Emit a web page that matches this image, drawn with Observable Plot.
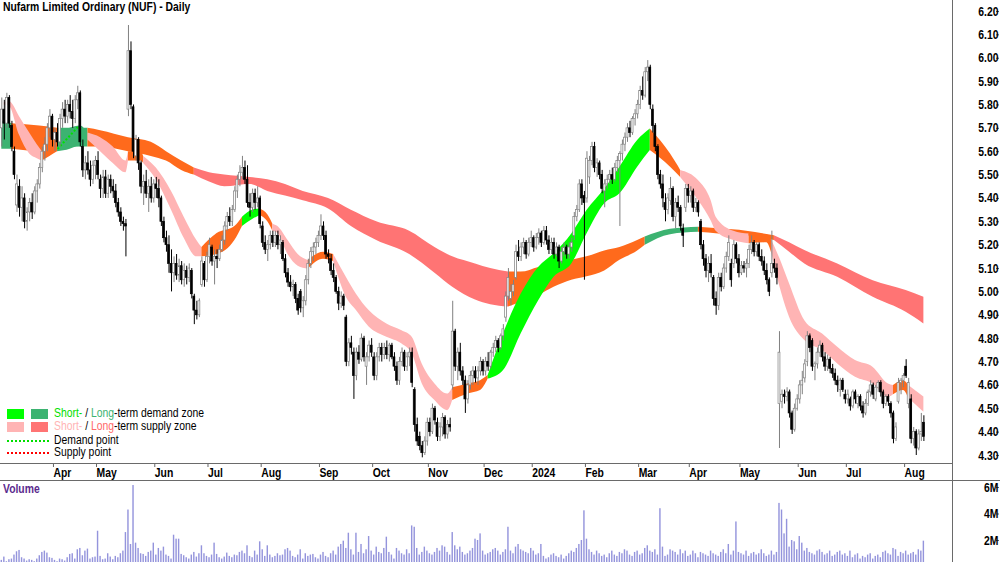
<!DOCTYPE html>
<html><head><meta charset="utf-8">
<script src="https://cdn.jsdelivr.net/npm/d3@7"></script>
<script src="https://cdn.jsdelivr.net/npm/@observablehq/plot@0.6"></script>
<style>
body{margin:0;background:#fff;}
#wrap{position:relative;width:1000px;height:562px;overflow:hidden;background:#fff;font-family:"Liberation Sans Narrow","Arial Narrow","Liberation Sans",Arial,sans-serif;color:#000;}
.abs{position:absolute;}
.hl{position:absolute;height:1px;background:#6a6a6a;}
.vl{position:absolute;width:1px;background:#6a6a6a;}
.nar{display:inline-block;transform:scaleX(0.83);transform-origin:0 0;white-space:nowrap;}
#title{left:3px;top:0px;font-size:12.5px;font-weight:bold;}
#vlabel{left:3px;top:482px;font-size:12.5px;font-weight:bold;color:#5b2a8e;}
.lg{position:absolute;left:0;font-size:12.5px;white-space:nowrap;}
.sw{position:absolute;width:17px;height:10px;}
.dot{position:absolute;height:2px;width:42px;}
</style></head><body>
<div id="wrap">
  <div id="price" class="abs" style="left:0;top:0"></div>
  <div id="vol" class="abs" style="left:0;top:480px"></div>
  <div class="hl" style="left:0;top:463px;width:952px"></div>
  <div class="hl" style="left:0;top:480px;width:1000px"></div>
  <div class="vl" style="left:952px;top:0;height:562px"></div>
  <div id="title" class="abs"><span class="nar">Nufarm Limited Ordinary (NUF) - Daily</span></div>
  <div id="vlabel" class="abs"><span class="nar">Volume</span></div>
  <div id="legend" class="abs" style="left:0;top:0;width:260px;height:470px">
    <div class="sw" style="left:7px;top:409px;background:#00ff00"></div>
    <div class="sw" style="left:31px;top:409px;background:#3cb371"></div>
    <div class="lg" style="left:54px;top:406px"><span class="nar"><span style="color:#00e000">Short-</span> / <span style="color:#3cb371">Long</span>-term demand zone</span></div>
    <div class="sw" style="left:7px;top:422px;background:#ffb4b4"></div>
    <div class="sw" style="left:31px;top:422px;background:#ff7474"></div>
    <div class="lg" style="left:54px;top:419px"><span class="nar"><span style="color:#ffb4b4">Short-</span> / <span style="color:#ff6a6a">Long</span>-term supply zone</span></div>
    <div class="dot" style="left:7px;top:440px;background:repeating-linear-gradient(to right,#00e000 0 2px,transparent 2px 4px)"></div>
    <div class="lg" style="left:54px;top:433px"><span class="nar">Demand point</span></div>
    <div class="dot" style="left:7px;top:452px;background:repeating-linear-gradient(to right,#ff0000 0 2px,transparent 2px 4px)"></div>
    <div class="lg" style="left:54px;top:445px"><span class="nar">Supply point</span></div>
  </div>
</div>
<script>
// ---------- DATA (prices in cents, volume in 10k shares) ----------
const startDate = "2023-03-06";
const holidays = ["2023-04-07","2023-04-10","2023-04-25","2023-06-12","2023-12-25","2023-12-26","2024-01-01","2024-01-26","2024-03-29","2024-04-01","2024-04-25","2024-06-10"];
const monthNames = ["Jan","Feb","Mar","Apr","May","Jun","Jul","Aug","Sep","Oct","Nov","Dec"];

const openC = [570,578,572,583,571,560,537,545,536,540,530,534,538,534,543,546,553,560,563,570,575,565,568,564,574,578,575,580,577,574,582,585,562,552,555,552,548,554,556,548,544,549,542,548,545,543,538,534,530,529,578,603,579,558,565,555,545,547,542,545,540,546,544,540,530,523,520,512,508,512,507,511,505,509,506,509,498,492,490,503,512,505,515,519,513,515,514,518,522,528,532,530,535,543,548,551,553,548,538,536,542,538,540,528,521,518,520,524,521,524,520,521,514,508,504,502,503,497,500,493,496,505,512,517,519,521,524,528,524,516,514,509,506,500,495,498,489,470,478,474,464,474,471,480,468,472,477,472,464,472,476,473,476,473,477,472,468,462,470,474,468,472,474,458,443,438,434,431,436,444,440,450,444,438,442,446,439,443,460,483,468,474,466,462,454,460,464,466,463,466,470,466,470,468,474,476,479,476,481,489,498,497,500,506,517,515,519,521,516,521,523,519,523,525,521,526,522,518,521,516,519,513,517,519,516,519,524,532,535,546,541,540,549,556,562,553,555,550,543,546,548,550,548,553,556,559,563,566,570,568,574,576,580,586,584,594,596,578,571,562,550,546,538,535,539,544,532,538,536,527,536,544,541,543,536,538,530,520,514,509,512,506,497,494,506,502,510,515,512,512,520,514,508,511,510,512,518,521,517,520,515,513,509,505,508,512,510,452,453,456,455,457,448,441,450,454,460,463,470,481,479,468,469,474,477,472,468,471,467,465,462,458,462,456,454,454,451,457,452,455,451,448,452,457,460,454,459,461,457,452,455,452,448,437,453,461,462,468,452,454,437,440,433,439,444];
const highC = [583,582,585,584,573,562,550,548,545,542,536,540,542,545,548,555,562,566,572,578,576,570,572,576,581,582,582,584,582,584,588,586,565,558,560,556,556,558,560,550,552,552,550,550,548,546,540,536,532,531,614,607,580,567,566,556,550,552,548,549,548,549,548,541,532,526,524,518,515,516,514,513,512,511,512,510,499,496,497,515,513,517,523,520,518,518,520,524,530,534,536,537,545,550,554,558,556,554,542,544,544,545,541,530,524,522,526,526,526,526,524,522,516,510,507,505,504,499,501,498,507,514,519,521,523,526,533,530,526,518,516,512,507,502,500,499,490,480,481,476,476,477,482,481,474,479,480,474,474,478,478,478,479,478,478,474,470,472,476,475,474,476,476,459,446,440,436,438,446,446,452,451,446,444,448,447,445,446,496,484,476,478,468,464,462,466,468,468,468,472,471,472,474,475,478,481,480,482,486,500,510,503,505,520,522,521,523,522,523,526,524,525,527,526,528,528,524,523,523,521,520,519,521,520,521,523,534,537,548,548,543,560,558,564,564,557,556,552,548,550,552,553,555,558,560,565,568,572,573,575,578,582,588,592,596,599,597,580,572,563,552,550,542,542,549,545,540,541,537,529,546,546,545,544,540,539,531,522,516,515,516,507,500,508,508,512,517,524,514,522,521,516,513,513,514,520,524,522,521,521,518,515,512,506,526,514,512,483,458,458,459,458,449,452,456,462,466,471,483,482,480,470,476,479,478,474,473,472,469,467,464,463,463,458,458,455,458,458,456,456,453,454,458,462,461,460,462,462,458,456,456,453,449,444,463,463,465,471,463,456,442,441,441,448,447];
const lowC = [562,565,570,570,560,548,534,532,530,527,526,530,531,533,538,544,551,556,560,566,562,560,562,562,570,572,572,574,570,572,578,562,549,548,550,545,546,548,548,540,540,540,540,542,540,536,532,528,526,515,575,578,557,556,552,542,537,540,534,538,538,540,536,528,521,517,508,500,504,505,504,503,502,503,504,497,486,488,489,502,502,504,512,511,503,510,513,517,520,526,528,528,534,540,545,548,546,536,532,534,535,536,527,519,516,513,518,519,519,518,516,513,506,502,500,498,495,490,491,489,494,503,510,513,516,519,522,522,514,512,507,504,499,492,493,492,468,468,473,454,462,469,470,470,460,470,472,462,462,470,470,471,471,470,471,466,460,460,468,466,466,468,459,440,434,432,429,430,434,438,439,443,436,436,438,437,437,440,458,466,462,464,460,448,452,458,460,461,460,464,464,464,466,467,472,474,474,475,479,487,496,494,498,505,513,513,516,514,515,519,517,518,520,519,520,520,516,516,514,515,510,512,515,514,514,517,522,530,534,537,505,538,546,554,551,549,548,542,536,544,546,546,547,551,528,556,560,564,566,567,571,574,578,582,583,590,578,568,560,548,544,536,530,533,537,530,527,534,526,519,534,538,538,534,534,532,518,511,506,504,506,494,490,492,500,501,508,513,502,510,512,506,507,508,506,510,516,515,515,513,511,507,503,498,506,508,503,433,450,452,453,446,439,440,449,452,456,461,468,474,466,462,467,472,470,466,466,465,463,460,457,455,457,452,452,449,450,452,450,449,446,447,451,455,454,453,457,455,450,451,451,446,435,436,452,456,459,463,450,435,434,430,432,436,436];
const closeC = [578,572,583,572,562,550,546,536,540,530,534,538,534,543,546,553,560,563,570,575,565,568,564,574,578,575,580,577,574,582,585,564,552,555,552,548,554,556,550,544,549,542,548,545,543,538,534,530,529,528,603,580,560,565,555,545,547,542,545,540,546,544,540,530,523,520,512,508,512,507,511,505,509,506,510,499,492,490,496,513,505,515,520,513,515,514,518,522,528,532,530,535,543,548,551,553,548,538,536,542,538,540,529,521,518,520,524,521,524,520,522,514,508,504,502,503,497,492,493,496,505,512,517,519,521,524,528,524,516,515,509,506,500,495,498,494,470,478,476,464,474,471,480,472,472,477,474,464,472,476,473,476,473,477,472,468,462,470,474,468,472,474,461,443,436,434,431,436,444,440,450,445,438,442,446,439,443,442,483,468,474,466,462,454,460,464,466,463,466,470,466,470,468,474,476,479,476,481,484,498,506,500,503,517,515,519,521,516,521,523,519,523,525,521,526,522,518,521,516,519,513,517,519,516,519,521,532,535,546,540,538,557,556,562,553,555,550,544,546,548,550,548,553,556,559,563,566,570,568,574,576,580,586,584,594,596,580,571,562,550,546,540,535,540,544,532,538,536,528,524,544,541,543,536,538,534,520,514,509,512,508,497,494,506,502,510,515,521,505,520,514,508,511,510,512,518,521,517,520,515,513,509,505,500,512,510,506,474,456,455,457,448,441,450,454,460,462,469,481,476,468,469,474,477,472,468,471,467,465,462,460,462,458,454,456,451,457,454,455,451,448,452,457,460,456,459,461,457,452,455,453,448,437,442,461,462,464,464,461,437,440,433,439,440,438];
const volume10k = [50,75,40,55,60,90,115,125,70,60,45,55,50,40,60,85,110,120,105,70,65,50,40,60,55,45,70,95,100,60,130,140,85,120,135,60,70,75,270,80,55,60,100,75,55,80,70,100,120,260,430,170,615,180,140,100,95,80,110,120,180,90,140,120,150,90,80,60,240,210,210,95,85,70,60,90,110,75,100,160,100,80,70,90,180,95,70,60,75,105,80,70,90,85,110,120,100,160,80,70,120,90,190,130,80,160,90,70,80,100,85,90,130,140,120,80,70,90,130,60,100,80,90,95,70,60,90,110,80,70,100,120,90,150,170,195,140,255,130,90,255,110,170,100,130,230,120,90,150,110,100,140,225,110,90,60,140,120,100,90,130,100,310,300,140,90,110,150,120,100,90,110,140,120,160,150,110,90,260,160,130,150,110,90,100,120,140,210,200,250,120,90,100,110,130,140,120,90,110,130,300,120,100,150,170,130,120,110,100,140,120,90,100,170,80,60,70,90,100,80,70,90,60,80,100,120,110,140,170,200,424,210,130,110,90,120,100,80,90,70,100,120,90,80,110,100,130,120,90,80,110,120,90,100,140,160,120,110,130,90,440,150,80,90,130,120,110,90,130,100,120,80,90,120,100,70,110,100,90,80,120,100,90,80,110,130,100,170,90,120,340,110,100,90,120,80,100,110,90,100,130,100,80,90,120,90,110,480,430,250,360,150,200,190,130,230,180,120,140,110,100,90,120,130,110,90,100,120,80,90,110,120,90,100,80,120,70,90,100,60,80,70,90,100,60,80,90,70,110,120,100,90,140,130,80,110,100,120,90,100,110,90,130,120,195];

// Zone bands: knots at trading-day index, top/bottom price, zone code for the stretch that follows
const longDay = [0,4,15,22,31,34,39,50,59,65,71,76,82,88,98,105,112,119,129,138,148,161,171,178,187,193,200,205,212,218,225,231,238,244,251,254,264,275,283,294,305,311,317,330,344,357,364];
const longTop = [5.73,5.72,5.71,5.70,5.70,5.70,5.69,5.66,5.64,5.60,5.56,5.53,5.51,5.50,5.49,5.48,5.46,5.43,5.40,5.35,5.30,5.26,5.19,5.15,5.12,5.10,5.085,5.085,5.105,5.12,5.135,5.15,5.175,5.19,5.22,5.235,5.268,5.277,5.27,5.26,5.24,5.21,5.177,5.12,5.048,5.006,4.977];
const longBot = [5.61,5.61,5.60,5.61,5.62,5.62,5.62,5.60,5.58,5.56,5.52,5.50,5.47,5.45,5.46,5.43,5.41,5.39,5.355,5.28,5.22,5.16,5.08,5.02,4.965,4.945,4.935,4.955,4.985,5.02,5.05,5.065,5.09,5.135,5.175,5.20,5.245,5.255,5.248,5.24,5.22,5.17,5.12,5.063,4.977,4.913,4.863];
const longZone = ["ld","n","n","ld","ld","n","n","n","n","n","n","ls","ls","ls","ls","ls","ls","ls","ls","ls","ls","ls","ls","ls","ls","ls","n","n","n","n","n","n","n","n","n","ld","ld","n","n","n","ls","ls","ls","ls","ls","ls","ls"];

const shortDay = [1,3,7,11,14,16,19,22,27,31,34,39,44,49,50,55,56,61,67,72,77,79,85,92,95,99,102,105,107,109,113,117,121,127,131,136,140,145,152,158,162,166,171,176,178,184,189,192,198,205,212,218,225,231,238,244,251,256,264,268,275,280,282,289,295,302,304,308,311,317,324,330,337,344,350,352,356,358,364];
const shortTop = [5.81,5.815,5.75,5.68,5.63,5.60,5.64,5.68,5.70,5.71,5.68,5.66,5.62,5.56,5.60,5.60,5.58,5.53,5.43,5.32,5.22,5.19,5.25,5.28,5.32,5.35,5.355,5.33,5.29,5.28,5.22,5.16,5.134,5.17,5.16,5.063,4.99,4.92,4.863,4.834,4.806,4.69,4.606,4.563,4.59,4.606,4.62,4.642,4.82,4.99,5.106,5.163,5.248,5.348,5.44,5.534,5.648,5.697,5.59,5.52,5.477,5.391,5.32,5.26,5.248,5.245,5.22,5.12,5.034,4.877,4.82,4.763,4.706,4.677,4.606,4.60,4.62,4.60,4.55];
const shortBot = [5.80,5.795,5.67,5.59,5.57,5.56,5.58,5.60,5.61,5.63,5.65,5.60,5.55,5.51,5.56,5.56,5.55,5.48,5.35,5.23,5.15,5.15,5.16,5.22,5.28,5.31,5.327,5.30,5.26,5.25,5.16,5.11,5.098,5.14,5.13,4.977,4.92,4.85,4.806,4.777,4.735,4.606,4.535,4.492,4.535,4.563,4.578,4.627,4.663,4.82,4.963,5.063,5.12,5.248,5.377,5.42,5.534,5.605,5.534,5.49,5.391,5.305,5.26,5.22,5.206,5.21,5.163,4.99,4.891,4.792,4.749,4.692,4.635,4.606,4.549,4.56,4.578,4.545,4.485];
const shortZone = ["ss","ss","ss","ss","ss","n","n","ld","ld","ld","ss","ss","ss","ss","n","n","ss","ss","ss","ss","ss","n","n","n","sd","sd","n","n","ss","ss","ss","ss","n","n","ss","ss","ss","ss","ss","ss","ss","ss","ss","ss","n","n","n","sd","sd","sd","sd","sd","sd","sd","sd","sd","sd","n","n","ss","ss","ss","ss","ss","n","n","ss","ss","ss","ss","ss","ss","ss","ss","ss","n","n","ss","ss"];

// Demand point (dotted green) on the chart
const demandDay = [22, 30];
const demandPrice = [5.612, 5.705];

const priceTicks = [4.30,4.40,4.50,4.60,4.70,4.80,4.90,5.00,5.10,5.20,5.30,5.40,5.50,5.60,5.70,5.80,5.90,6.00,6.10,6.20];
const volumeTicks = [2e6,4e6,6e6];
const zoneColor = {sd:"#00ff00", ld:"#3cb371", ss:"#ffb4b4", ls:"#ff7474", n:"#ff6a1c"};

// ---------- BUILD ----------
const FONT = '"Liberation Sans Narrow","Arial Narrow","Liberation Sans",Arial,sans-serif';
const N = closeC.length;
const days = d3.range(N).map(i => ({i, o: openC[i]/100, h: highC[i]/100, l: lowC[i]/100, c: closeC[i]/100, v: volume10k[i]*1e4, up: closeC[i] >= openC[i]}));

const dates = [];
for (let d = new Date(startDate + "T00:00:00Z"); dates.length < N; d = new Date(d.getTime() + 864e5)) {
  const dow = d.getUTCDay(), s = d.toISOString().slice(0,10);
  if (dow === 0 || dow === 6 || holidays.includes(s)) continue;
  dates.push(d);
}
const monthTicks = [];
for (let i = 1; i < N; i++) if (dates[i].getUTCMonth() !== dates[i-1].getUTCMonth()) monthTicks.push(i);
const monthLabel = i => dates[i].getUTCMonth() === 0 ? String(dates[i].getUTCFullYear()) : monthNames[dates[i].getUTCMonth()];

function segments(day, top, bot, zone, band) {
  const out = []; let seg = 0;
  for (let k = 0; k < day.length; k++) {
    if (k > 0 && zone[k] !== zone[k-1]) { out.push({x: day[k], y1: bot[k], y2: top[k], seg: band + seg, z: zone[k-1]}); seg++; }
    out.push({x: day[k], y1: bot[k], y2: top[k], seg: band + seg, z: zone[k]});
  }
  return out;
}
const longSeg = segments(longDay, longTop, longBot, longZone, "L");
const shortSeg = segments(shortDay, shortTop, shortBot, shortZone, "S");
const demandLine = [{x1: demandDay[0], y1: demandPrice[0], x2: demandDay[1], y2: demandPrice[1]}];

const xScale = {domain: [-0.513, 375.3], range: [0, 952], axis: null};

function narrowText(svg) {
  svg.querySelectorAll("text").forEach(t => {
    const tr = t.getAttribute("transform") || "";
    t.setAttribute("transform", tr + " scale(0.83,1)");
  });
}

const price = Plot.plot({
  width: 1000, height: 480,
  marginTop: 0, marginLeft: 0, marginRight: 48, marginBottom: 17,
  style: {fontFamily: FONT, background: "transparent", overflow: "visible"},
  x: xScale,
  y: {domain: [4.3, 6.2], range: [455, 11], axis: null},
  color: {type: "identity"},
  marks: [
    Plot.areaY(longSeg, {x: "x", y1: "y1", y2: "y2", z: "seg", fill: d => zoneColor[d.z], curve: "monotone-x"}),
    Plot.areaY(shortSeg, {x: "x", y1: "y1", y2: "y2", z: "seg", fill: d => zoneColor[d.z], curve: "monotone-x"}),
    Plot.link(demandLine, {x1: "x1", y1: "y1", x2: "x2", y2: "y2", stroke: "#00e000", strokeWidth: 2, strokeDasharray: "2,2"}),
    Plot.ruleX(days, {x: "i", y1: "l", y2: "h", stroke: d => d.up ? "#808080" : "#000", strokeWidth: 1}),
    Plot.rect(days, {x1: d => d.i - 0.38, x2: d => d.i + 0.38, y1: d => Math.min(d.o, d.c), y2: d => Math.max(d.o, d.c),
      fill: d => d.up ? "#fff" : "#000", stroke: d => d.up ? "#808080" : "#000", strokeWidth: 0.7}),
    Plot.axisY({anchor: "right", ticks: priceTicks, tickFormat: d => d.toFixed(2), tickSize: 3, tickPadding: 0,
      textAnchor: "end", dx: 43, fontWeight: "bold", fontSize: 12.5, stroke: "#666", fill: "#000", label: null}),
    Plot.axisX({anchor: "bottom", ticks: monthTicks, tickFormat: monthLabel, tickSize: 4, tickPadding: 1,
      textAnchor: "start", dx: 1, fontWeight: "bold", fontSize: 12.5, stroke: "#666", fill: "#000", label: null})
  ]
});
narrowText(price);
document.getElementById("price").appendChild(price);

const vol = Plot.plot({
  width: 1000, height: 82,
  marginTop: 0, marginLeft: 0, marginRight: 48, marginBottom: 0,
  style: {fontFamily: FONT, background: "transparent", overflow: "visible"},
  x: xScale,
  y: {domain: [0, 6e6], range: [86.5, 7], axis: null},
  marks: [
    Plot.rect(days, {x1: d => d.i - 0.28, x2: d => d.i + 0.28, y1: 0, y2: "v", fill: "#9494dc"}),
    Plot.axisY({anchor: "right", ticks: volumeTicks, tickFormat: d => (d/1e6) + "M", tickSize: 3, tickPadding: 0,
      textAnchor: "end", dx: 43, fontWeight: "bold", fontSize: 12.5, stroke: "#666", fill: "#000", label: null})
  ]
});
narrowText(vol);
document.getElementById("vol").appendChild(vol);
</script>
</body></html>
